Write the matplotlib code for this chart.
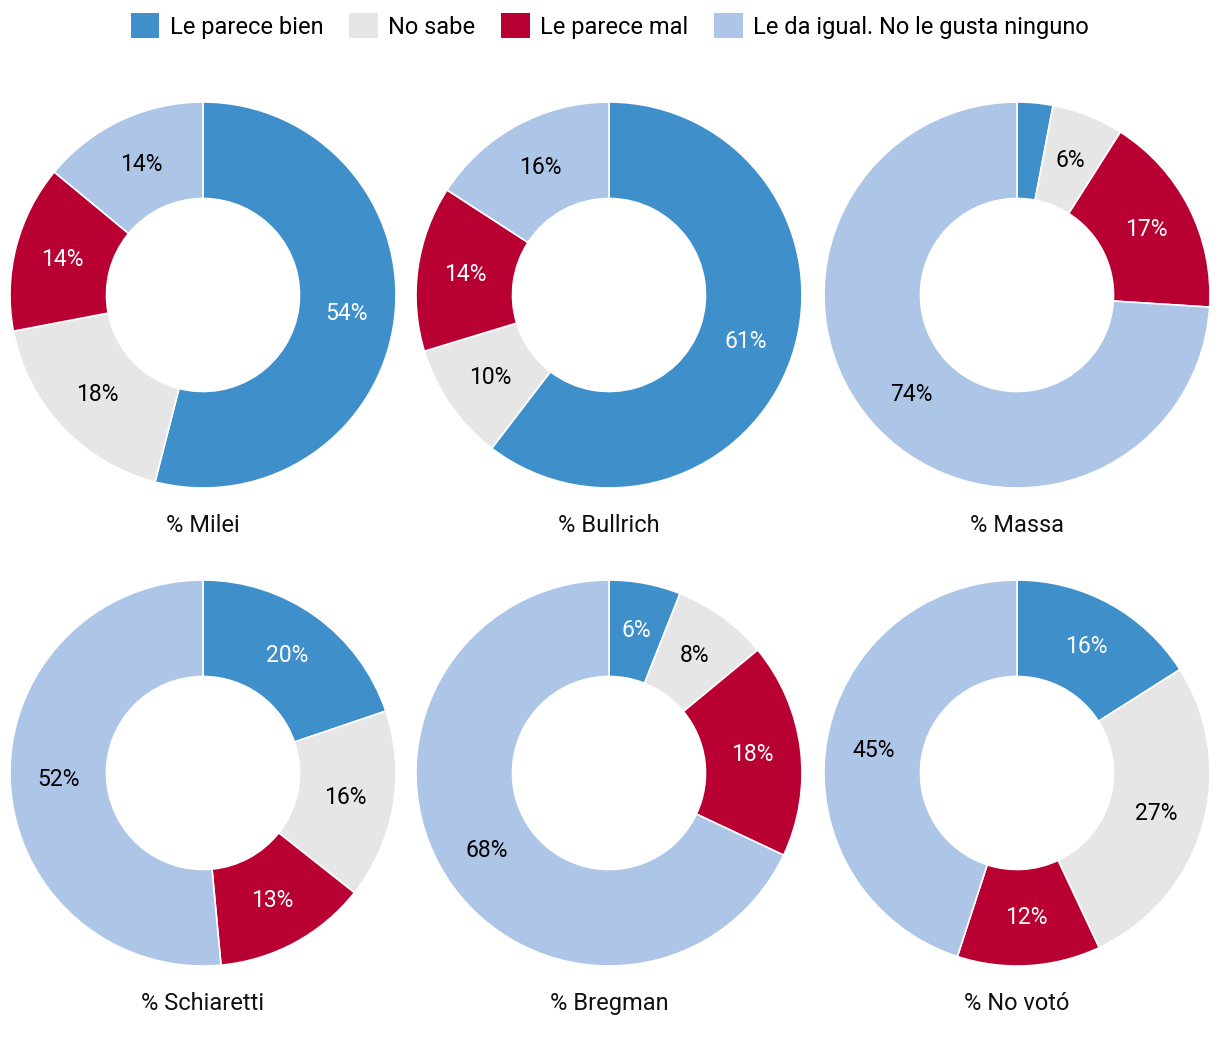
import numpy as np
import matplotlib.pyplot as plt
from matplotlib.patches import Patch

categories = ["Le parece bien", "No sabe", "Le parece mal", "Le da igual. No le gusta ninguno"]
colors = ["#3f8fcb", "#e6e6e6", "#b80032", "#adc5e6"]
text_colors = ["white", "black", "white", "black"]

titles = ["% Milei", "% Bullrich", "% Massa", "% Schiaretti", "% Bregman", "% No votó"]
values = [
    [54, 18, 14, 14],
    [61, 10, 14, 16],
    [3, 6, 17, 74],
    [20, 16, 13, 52],
    [6, 8, 18, 68],
    [16, 27, 12, 45],
]
# slices too small to label
min_label = 5

plt.rcParams['font.family'] = ['Roboto', 'DejaVu Sans']

W, H = 1220, 1048
fig = plt.figure(figsize=(W / 100, H / 100), dpi=100)

centers_x = [203, 609, 1017]
centers_y = [295, 773]
radius_px = 193
box = 420
lim = box / (2 * radius_px)

for i, (title, vals) in enumerate(zip(titles, values)):
    cx = centers_x[i % 3]
    cy = centers_y[i // 3]
    ax = fig.add_axes([(cx - box / 2) / W, 1 - (cy + box / 2) / H, box / W, box / H])
    ax.pie(vals, colors=colors, startangle=90, counterclock=False,
           radius=1, wedgeprops=dict(width=0.5, edgecolor="white", linewidth=1.2))
    total = sum(vals)
    start = 90.0
    for v, tc in zip(vals, text_colors):
        ang = start - v / total * 360 / 2
        start -= v / total * 360
        if v < min_label:
            continue
        r = 0.75
        ax.text(r * np.cos(np.radians(ang)), r * np.sin(np.radians(ang)), f"{v}%",
                ha="center", va="center", fontsize=16.5, color=tc)
    ax.text(0, -1.195, title, ha="center", va="center", fontsize=17, color="#111111")
    ax.set_xlim(-lim, lim)
    ax.set_ylim(-lim, lim)
    ax.set_aspect("equal")
    ax.axis("off")

handles = [Patch(facecolor=c, edgecolor="none", label=l) for c, l in zip(colors, categories)]
fig.legend(handles=handles, loc="center", bbox_to_anchor=(0.5, 1 - 26 / H), ncol=4,
           frameon=False, fontsize=17, handlelength=1.2, handleheight=1.2,
           handletextpad=0.45, columnspacing=1.1, borderaxespad=0)

fig.savefig("out.png", dpi=100, facecolor="white")
